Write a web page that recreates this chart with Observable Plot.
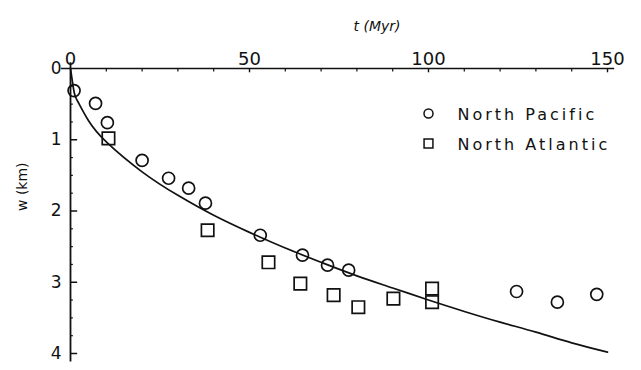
<!DOCTYPE html>
<html>
<head>
<meta charset="utf-8">
<script src="https://cdn.jsdelivr.net/npm/d3@7"></script>
<script src="https://cdn.jsdelivr.net/npm/@observablehq/plot@0.6"></script>
<style>
  html, body { margin: 0; padding: 0; background: #fff; }
  #chart { position: relative; width: 641px; height: 370px; }
  svg { font-family: "DejaVu Sans", sans-serif; }
</style>
</head>
<body>
<div id="chart"></div>
<script>
// North Pacific (circles): age t (Myr), depth w (km)
const pacificT = [1, 7, 10.3, 20, 27.4, 33, 37.7, 53, 64.8, 71.8, 77.7, 124.6, 136, 147];
const pacificW = [0.31, 0.49, 0.76, 1.29, 1.54, 1.68, 1.89, 2.34, 2.62, 2.76, 2.83, 3.13, 3.28, 3.17];
// North Atlantic (squares)
const atlanticT = [10.6, 38.3, 55.3, 64.2, 73.5, 80.4, 90.2, 101, 101];
const atlanticW = [0.98, 2.27, 2.72, 3.02, 3.18, 3.35, 3.23, 3.09, 3.28];
// Model curve
const curveT = [0, 1, 2, 5, 10, 20, 30, 40, 50, 60, 70, 80, 90, 100, 110, 120, 130, 140, 150];
const curveW = [0, 0.33, 0.46, 0.73, 1.03, 1.45, 1.78, 2.06, 2.3, 2.52, 2.72, 2.91, 3.08, 3.25, 3.41, 3.56, 3.7, 3.85, 3.98];
const seriesNames = ["North Pacific", "North Atlantic"];
const xTicks = [0, 50, 100, 150];
const yTicks = [0, 1, 2, 3, 4];
const xMinor = [10, 20, 30, 40, 60, 70, 80, 90, 110, 120, 130, 140];
const yMinor = [0.25, 0.5, 0.75, 1.25, 1.5, 1.75, 2.25, 2.5, 2.75, 3.25, 3.5, 3.75];
const xLabel = "t (Myr)";
const yLabel = "w (km)";

const pacific = pacificT.map((t, i) => ({t, w: pacificW[i]}));
const atlantic = atlanticT.map((t, i) => ({t, w: atlanticW[i]}));
const curve = curveT.map((t, i) => ({t, w: curveW[i]}));

const ink = "#111";
const plot = Plot.plot({
  width: 641,
  height: 370,
  marginLeft: 70,
  marginRight: 34,
  marginTop: 68,
  marginBottom: 17,
  x: {domain: [0, 150]},
  y: {domain: [0, 4], range: [68, 353]},
  marks: [
    // axis lines
    Plot.ruleY([0], {x1: -2.5, x2: 152, stroke: ink, strokeWidth: 1.6}),
    Plot.ruleX([0], {y1: -0.08, y2: 4.12, stroke: ink, strokeWidth: 1.8}),
    // minor ticks
    Plot.ruleX(xMinor, {y1: 0, y2: 0.05, stroke: ink, strokeWidth: 1.2}),
    Plot.ruleY(yMinor, {x1: 0, x2: 0.8, stroke: ink, strokeWidth: 1.2}),
    Plot.ruleY(yTicks.slice(1), {x1: 0, x2: 2, stroke: ink, strokeWidth: 1.5}),
    Plot.ruleX(xTicks.slice(1), {y1: 0, y2: 0.06, stroke: ink, strokeWidth: 1.4}),
    // tick labels
    Plot.axisX({anchor: "top", ticks: xTicks, tickSize: 0, tickPadding: 4, fontSize: 18, label: null, color: ink}),
    Plot.axisY({anchor: "left", ticks: yTicks, tickFormat: d3.format("d"), tickSize: 0, tickPadding: 9, fontSize: 17, label: null, color: ink}),
    // axis titles
    Plot.text([xLabel], {frameAnchor: "top", dx: 38, dy: -47, fontSize: 14, fontStyle: "italic", fill: ink}),
    Plot.text([yLabel], {frameAnchor: "left", dx: -48, dy: 0, rotate: -90, fontSize: 14, fill: ink}),
    // model curve
    Plot.line(curve, {x: "t", y: "w", curve: "natural", stroke: ink, strokeWidth: 1.7}),
    // data
    Plot.dot(pacific, {x: "t", y: "w", r: 6, symbol: "circle", stroke: ink, strokeWidth: 1.7, fill: "none"}),
    Plot.dot(atlantic, {x: "t", y: "w", r: 7, symbol: "square", stroke: ink, strokeWidth: 1.7, fill: "none"}),
    // legend
    Plot.dot([seriesNames[0]], {frameAnchor: "top-left", dx: 358, dy: 45, r: 4.5, symbol: "circle", stroke: ink, strokeWidth: 1.5, fill: "none"}),
    Plot.dot([seriesNames[1]], {frameAnchor: "top-left", dx: 358, dy: 75, r: 5, symbol: "square", stroke: ink, strokeWidth: 1.5, fill: "none"}),
    Plot.text([seriesNames[0]], {frameAnchor: "top-left", dx: 387, dy: 40, textAnchor: "start", fontSize: 16, fill: ink}),
    Plot.text([seriesNames[1]], {frameAnchor: "top-left", dx: 387, dy: 70, textAnchor: "start", fontSize: 16, fill: ink})
  ]
});
d3.select(plot).selectAll("text").filter(function() {
  return seriesNames.includes(this.textContent);
}).style("letter-spacing", "3px");
document.getElementById("chart").appendChild(plot);
</script>
</body>
</html>
